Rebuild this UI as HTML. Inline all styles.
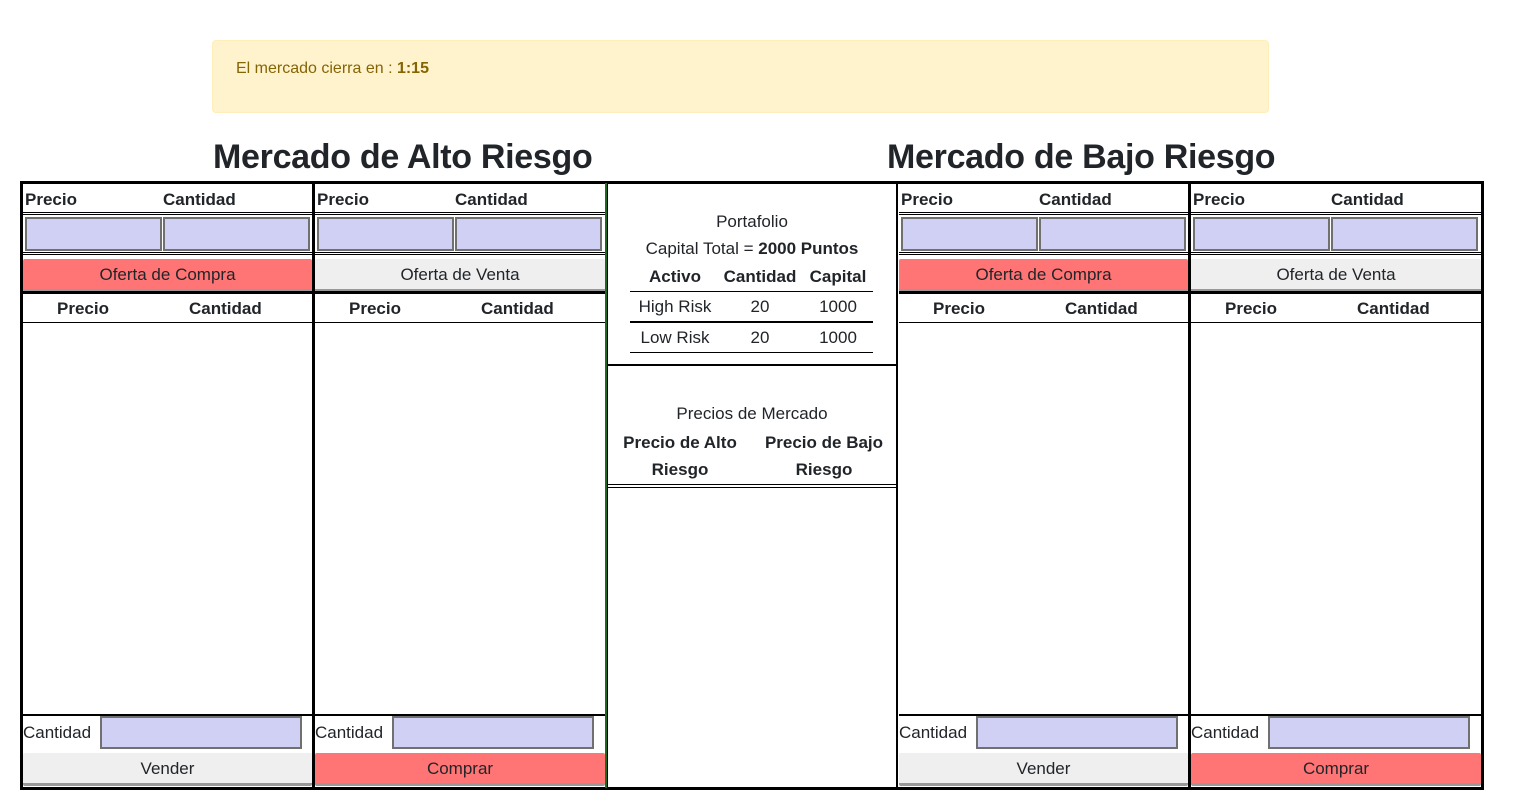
<!DOCTYPE html>
<html><head><meta charset="utf-8"><style>
*{box-sizing:border-box;margin:0;padding:0}
body{width:1515px;height:812px;background:#fff;font-family:"Liberation Sans",sans-serif;color:#212529;position:relative;overflow:hidden}
.a{position:absolute}
.alert{left:212px;top:40px;width:1057px;height:73px;background:#fff3cd;border:1px solid #ffeeba;border-radius:4px;color:#856404;font-size:16px;padding:19px 23px}
h1{position:absolute;top:138px;font-size:34px;font-weight:bold;white-space:nowrap;letter-spacing:-0.3px}
.col{position:absolute;top:185px;width:290px;height:601px}
.b{font-weight:bold;font-size:17px}
.hl{position:absolute;left:0;right:0;height:1px;background:#000}
.inp{position:absolute;background:#d0d0f4;border:2px solid #707070}
.btn{position:absolute;left:0;right:0;height:33px;border-bottom:3px solid #999;font-size:17px;text-align:center;line-height:31px;border-radius:2px}
.red{background:#ff7575}.gray{background:#efefef}
.t{position:absolute;font-size:17px;white-space:nowrap}
.c{text-align:center}
</style></head><body>
<div class="a alert">El mercado cierra en : <b>1:15</b></div>
<h1 style="left:213px">Mercado de Alto Riesgo</h1>
<h1 style="left:887px">Mercado de Bajo Riesgo</h1>

<div class="a" style="left:20px;top:181px;width:1464px;height:609px;border:3px solid #000"></div>
<div class="a" style="left:312px;top:183px;width:3px;height:605px;background:#000"></div>
<div class="a" style="left:605px;top:183px;width:2px;height:605px;background:#1a6b1a"></div>
<div class="a" style="left:607px;top:183px;width:1px;height:605px;background:#000"></div>
<div class="a" style="left:896px;top:183px;width:2px;height:605px;background:#000"></div>
<div class="a" style="left:1188px;top:183px;width:3px;height:605px;background:#000"></div>

<div class="col" style="left:23px;width:289px">
 <div class="t b" style="left:2px;top:5px">Precio</div><div class="t b" style="left:140px;top:5px">Cantidad</div>
 <div class="hl" style="top:27px"></div><div class="hl" style="top:29px"></div>
 <div class="inp" style="left:2px;top:32px;width:137px;height:34px"></div><div class="inp" style="left:140px;top:32px;width:147px;height:34px"></div>
 <div class="hl" style="top:67px"></div><div class="hl" style="top:69px"></div>
 <div class="btn red" style="top:74px">Oferta de Compra</div>
 <div class="hl" style="top:106px;height:3px"></div>
 <div class="t b" style="left:34px;top:114px">Precio</div><div class="t b" style="left:166px;top:114px">Cantidad</div>
 <div class="hl" style="top:137px"></div>
 <div class="hl" style="top:529px;height:2px"></div>
 <div class="t" style="left:0;top:538px">Cantidad</div>
 <div class="inp" style="left:77px;top:531px;width:202px;height:33px"></div>
 <div class="btn gray" style="top:568px">Vender</div>
</div>
<div class="col" style="left:315px">
 <div class="t b" style="left:2px;top:5px">Precio</div><div class="t b" style="left:140px;top:5px">Cantidad</div>
 <div class="hl" style="top:27px"></div><div class="hl" style="top:29px"></div>
 <div class="inp" style="left:2px;top:32px;width:137px;height:34px"></div><div class="inp" style="left:140px;top:32px;width:147px;height:34px"></div>
 <div class="hl" style="top:67px"></div><div class="hl" style="top:69px"></div>
 <div class="btn gray" style="top:74px">Oferta de Venta</div>
 <div class="hl" style="top:106px;height:3px"></div>
 <div class="t b" style="left:34px;top:114px">Precio</div><div class="t b" style="left:166px;top:114px">Cantidad</div>
 <div class="hl" style="top:137px"></div>
 <div class="hl" style="top:529px;height:2px"></div>
 <div class="t" style="left:0;top:538px">Cantidad</div>
 <div class="inp" style="left:77px;top:531px;width:202px;height:33px"></div>
 <div class="btn red" style="top:568px">Comprar</div>
</div>
<div class="col" style="left:899px;width:289px">
 <div class="t b" style="left:2px;top:5px">Precio</div><div class="t b" style="left:140px;top:5px">Cantidad</div>
 <div class="hl" style="top:27px"></div><div class="hl" style="top:29px"></div>
 <div class="inp" style="left:2px;top:32px;width:137px;height:34px"></div><div class="inp" style="left:140px;top:32px;width:147px;height:34px"></div>
 <div class="hl" style="top:67px"></div><div class="hl" style="top:69px"></div>
 <div class="btn red" style="top:74px">Oferta de Compra</div>
 <div class="hl" style="top:106px;height:3px"></div>
 <div class="t b" style="left:34px;top:114px">Precio</div><div class="t b" style="left:166px;top:114px">Cantidad</div>
 <div class="hl" style="top:137px"></div>
 <div class="hl" style="top:529px;height:2px"></div>
 <div class="t" style="left:0;top:538px">Cantidad</div>
 <div class="inp" style="left:77px;top:531px;width:202px;height:33px"></div>
 <div class="btn gray" style="top:568px">Vender</div>
</div>
<div class="col" style="left:1191px">
 <div class="t b" style="left:2px;top:5px">Precio</div><div class="t b" style="left:140px;top:5px">Cantidad</div>
 <div class="hl" style="top:27px"></div><div class="hl" style="top:29px"></div>
 <div class="inp" style="left:2px;top:32px;width:137px;height:34px"></div><div class="inp" style="left:140px;top:32px;width:147px;height:34px"></div>
 <div class="hl" style="top:67px"></div><div class="hl" style="top:69px"></div>
 <div class="btn gray" style="top:74px">Oferta de Venta</div>
 <div class="hl" style="top:106px;height:3px"></div>
 <div class="t b" style="left:34px;top:114px">Precio</div><div class="t b" style="left:166px;top:114px">Cantidad</div>
 <div class="hl" style="top:137px"></div>
 <div class="hl" style="top:529px;height:2px"></div>
 <div class="t" style="left:0;top:538px">Cantidad</div>
 <div class="inp" style="left:77px;top:531px;width:202px;height:33px"></div>
 <div class="btn red" style="top:568px">Comprar</div>
</div>

<div class="col" style="left:608px;width:288px">
 <div class="t c" style="left:0;width:288px;top:27px">Portafolio</div>
 <div class="t c" style="left:0;width:288px;top:54px">Capital Total = <b>2000 Puntos</b></div>
 <div class="t b c" style="left:22px;width:90px;top:82px">Activo</div>
 <div class="t b c" style="left:112px;width:80px;top:82px">Cantidad</div>
 <div class="t b c" style="left:196px;width:68px;top:82px">Capital</div>
 <div class="a" style="left:22px;width:243px;top:106px;height:1px;background:#000"></div>
 <div class="t c" style="left:22px;width:90px;top:112px">High Risk</div>
 <div class="t c" style="left:112px;width:80px;top:112px">20</div>
 <div class="t c" style="left:196px;width:68px;top:112px">1000</div>
 <div class="a" style="left:22px;width:243px;top:136px;height:2px;background:#000"></div>
 <div class="t c" style="left:22px;width:90px;top:143px">Low Risk</div>
 <div class="t c" style="left:112px;width:80px;top:143px">20</div>
 <div class="t c" style="left:196px;width:68px;top:143px">1000</div>
 <div class="a" style="left:22px;width:243px;top:167px;height:1px;background:#000"></div>
 <div class="hl" style="top:179px;height:2px"></div>
 <div class="t c" style="left:0;width:288px;top:219px">Precios de Mercado</div>
 <div class="t b c" style="left:0;width:144px;top:244px;line-height:27px;white-space:normal">Precio de Alto<br>Riesgo</div>
 <div class="t b c" style="left:144px;width:144px;top:244px;line-height:27px;white-space:normal">Precio de Bajo<br>Riesgo</div>
 <div class="hl" style="top:299px"></div><div class="hl" style="top:302px"></div>
</div>
</body></html>
